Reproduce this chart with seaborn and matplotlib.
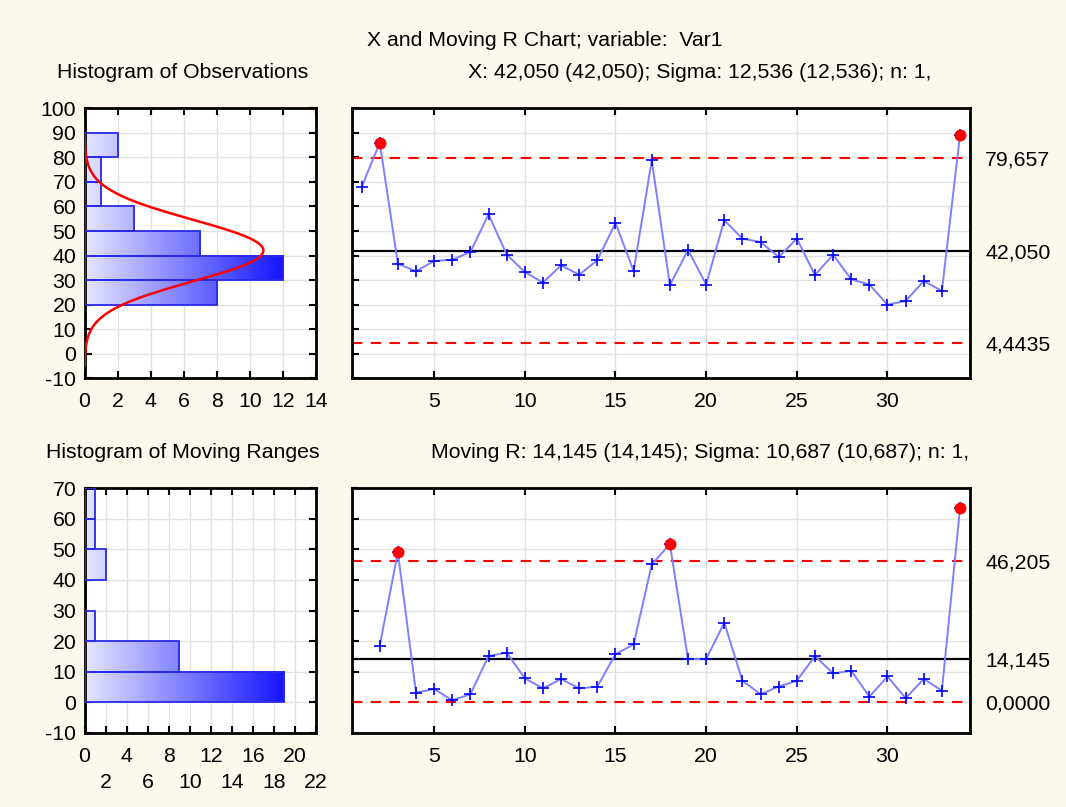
import numpy as np
import matplotlib
matplotlib.use("Agg")
import matplotlib.pyplot as plt
from matplotlib.colors import LinearSegmentedColormap
from matplotlib.patches import Rectangle
import seaborn as sns

# ---------------- data ----------------
obs = list(range(1, 35))
x_values = [67.9, 86.0, 36.7, 33.6, 37.8, 38.3, 41.5, 56.8, 40.4, 33.3,
            29.0, 36.0, 32.2, 38.1, 53.3, 33.7, 78.8, 27.9, 42.3, 28.2,
            54.4, 46.9, 45.5, 39.4, 46.9, 32.0, 40.4, 30.3, 28.2, 20.0,
            21.5, 29.6, 25.6, 89.3]
mr_obs = list(range(2, 35))
mr_values = [18.5, 49.1, 3.1, 4.3, 0.6, 2.6, 15.1, 16.2, 7.8, 4.5,
             7.6, 4.5, 5.1, 15.7, 18.9, 45.1, 51.7, 14.1, 14.1, 26.0,
             7.0, 2.6, 5.1, 7.0, 15.1, 9.4, 10.3, 1.8, 8.4, 1.3,
             7.6, 3.8, 63.5]

x_limits = [79.657, 42.050, 4.4435]          # UCL, CL, LCL
x_limit_labels = ["79,657", "42,050", "4,4435"]
x_sigma = 12.536
mr_limits = [46.205, 14.145, 0.0]
mr_limit_labels = ["46,205", "14,145", "0,0000"]

title = "X and Moving R Chart; variable:  Var1"
hist_title_x = "Histogram of Observations"
chart_title_x = "X: 42,050 (42,050); Sigma: 12,536 (12,536); n: 1,"
hist_title_mr = "Histogram of Moving Ranges"
chart_title_mr = "Moving R: 14,145 (14,145); Sigma: 10,687 (10,687); n: 1,"

x_bins = list(range(0, 101, 10))
mr_bins = list(range(0, 71, 10))
mr_hist_ticks_row1 = [0, 4, 8, 12, 16, 20]
mr_hist_ticks_row2 = [2, 6, 10, 14, 18, 22]

# ---------------- style ----------------
sns.set_style("white")
FS = 15.3
plt.rcParams["font.family"] = ["Liberation Sans", "DejaVu Sans"]
plt.rcParams["font.size"] = FS
plt.rcParams["axes.unicode_minus"] = False
plt.rcParams["text.color"] = "black"
plt.rcParams["xtick.color"] = "black"
plt.rcParams["ytick.color"] = "black"

BG = "#fdf8ec"
GRID = "#e2e2e2"
LINE = "#7f7fff"
MARK = "#0000ff"

fig = plt.figure(figsize=(10.66, 8.07), dpi=100, facecolor=BG)

W, H = 1066.0, 807.0


def rect(l, t, r, b):
    return [l / W, 1 - b / H, (r - l) / W, (b - t) / H]


ax_hx = fig.add_axes(rect(84.5, 108.3, 316, 378.3))
ax_cx = fig.add_axes(rect(352, 108.3, 970, 378.3))
ax_hm = fig.add_axes(rect(84.5, 488.3, 316, 732.7))
ax_cm = fig.add_axes(rect(352, 488.3, 970, 732.7))

cmap = LinearSegmentedColormap.from_list("grad", ["#e6e6ff", "#1414ff"])


def style_axes(ax):
    ax.set_facecolor("white")
    for s in ax.spines.values():
        s.set_linewidth(2.0)
        s.set_color("black")
        s.set_visible(True)
    ax.tick_params(which="both", direction="in", length=5, width=1.5, top=True,
                   right=True, left=True, bottom=True, labeltop=False,
                   labelright=False, colors="black", labelsize=FS, pad=6)
    ax.tick_params(axis="x", which="major", pad=10)
    ax.grid(True, which="both", color=GRID, linewidth=1.0)
    ax.set_axisbelow(True)


def grad_hist(ax, data, bins):
    counts, edges = np.histogram(data, bins=bins)
    cmax = counts.max()
    for c, y0, y1 in zip(counts, edges[:-1], edges[1:]):
        if c == 0:
            continue
        grad = np.linspace(0, c / cmax, 256).reshape(1, -1)
        ax.imshow(grad, extent=[0, c, y0, y1], cmap=cmap, vmin=0, vmax=1,
                  aspect="auto", origin="lower", zorder=2,
                  interpolation="bicubic")
        r = Rectangle((0, y0), c, y1 - y0, facecolor="none",
                      edgecolor="#2a2ae6", linewidth=1.3, zorder=3)
        ax.add_patch(r)
    return counts


# ---------------- histogram of observations ----------------
style_axes(ax_hx)
grad_hist(ax_hx, x_values, x_bins)
yy = np.linspace(-5, 88, 300)
pdf = len(x_values) * 10 * np.exp(-0.5 * ((yy - x_limits[1]) / x_sigma) ** 2) / (x_sigma * np.sqrt(2 * np.pi))
sns.lineplot(x=pdf, y=yy, ax=ax_hx, color="red", linewidth=1.8, sort=False, zorder=4)
ax_hx.set_xlim(0, 14)
ax_hx.set_ylim(-10, 100)
ax_hx.set_xticks(range(0, 15, 2))
ax_hx.set_yticks(range(-10, 101, 10))
ax_hx.set_xlabel("")
ax_hx.set_ylabel("")

# ---------------- histogram of moving ranges ----------------
style_axes(ax_hm)
grad_hist(ax_hm, mr_values, mr_bins)
ax_hm.set_xlim(0, 22)
ax_hm.set_ylim(-10, 70)
ax_hm.set_xticks(mr_hist_ticks_row1)
ax_hm.set_xticklabels([str(v) for v in mr_hist_ticks_row1])
ax_hm.set_xticks(mr_hist_ticks_row2, minor=True)
ax_hm.set_xticklabels([str(v) for v in mr_hist_ticks_row2], minor=True)
ax_hm.tick_params(axis="x", which="minor", pad=29)
ax_hm.set_yticks(range(-10, 71, 10))
ax_hm.set_yticks([], minor=True)


# ---------------- control charts ----------------
def control_chart(ax, xs, ys, limits, labels, ylim, yticks):
    style_axes(ax)
    ucl, cl, lcl = limits
    ax.axhline(ucl, color="red", linestyle=(0, (5, 4)), linewidth=1.5, zorder=2)
    ax.axhline(lcl, color="red", linestyle=(0, (5, 4)), linewidth=1.5, zorder=2)
    ax.axhline(cl, color="black", linewidth=1.6, zorder=2)
    sns.lineplot(x=xs, y=ys, ax=ax, color=LINE, linewidth=1.4, marker="+",
                 markersize=8, markeredgecolor=MARK, markeredgewidth=1.2,
                 zorder=3)
    out_x = [a for a, b in zip(xs, ys) if b > ucl or b < lcl]
    out_y = [b for b in ys if b > ucl or b < lcl]
    sns.scatterplot(x=out_x, y=out_y, ax=ax, color="red", s=65,
                    edgecolor="red", linewidth=0.5, zorder=5)
    ax.set_xlim(0.47, 34.55)
    ax.set_ylim(*ylim)
    ax.set_xticks(range(5, 31, 5))
    ax.set_yticks(yticks)
    ax.tick_params(labelleft=False)
    ax2 = ax.twinx()
    ax2.set_ylim(*ylim)
    ax2.set_yticks(limits)
    ax2.set_yticklabels(labels)
    ax2.tick_params(length=0, pad=11, labelsize=FS, colors="black")
    for s in ax2.spines.values():
        s.set_visible(False)
    ax2.grid(False)


control_chart(ax_cx, obs, x_values, x_limits, x_limit_labels, (-10, 100), range(-10, 101, 10))
control_chart(ax_cm, mr_obs, mr_values, mr_limits, mr_limit_labels, (-10, 70), range(-10, 71, 10))

# ---------------- texts ----------------
fig.text(545 / W, 1 - 40 / H, title, ha="center", va="center", fontsize=FS)
fig.text(183 / W, 1 - 72 / H, hist_title_x, ha="center", va="center", fontsize=FS)
fig.text(700 / W, 1 - 72 / H, chart_title_x, ha="center", va="center", fontsize=FS)
fig.text(183 / W, 1 - 452 / H, hist_title_mr, ha="center", va="center", fontsize=FS)
fig.text(700 / W, 1 - 452 / H, chart_title_mr, ha="center", va="center", fontsize=FS)

fig.savefig("out.png", dpi=100, facecolor=BG)
